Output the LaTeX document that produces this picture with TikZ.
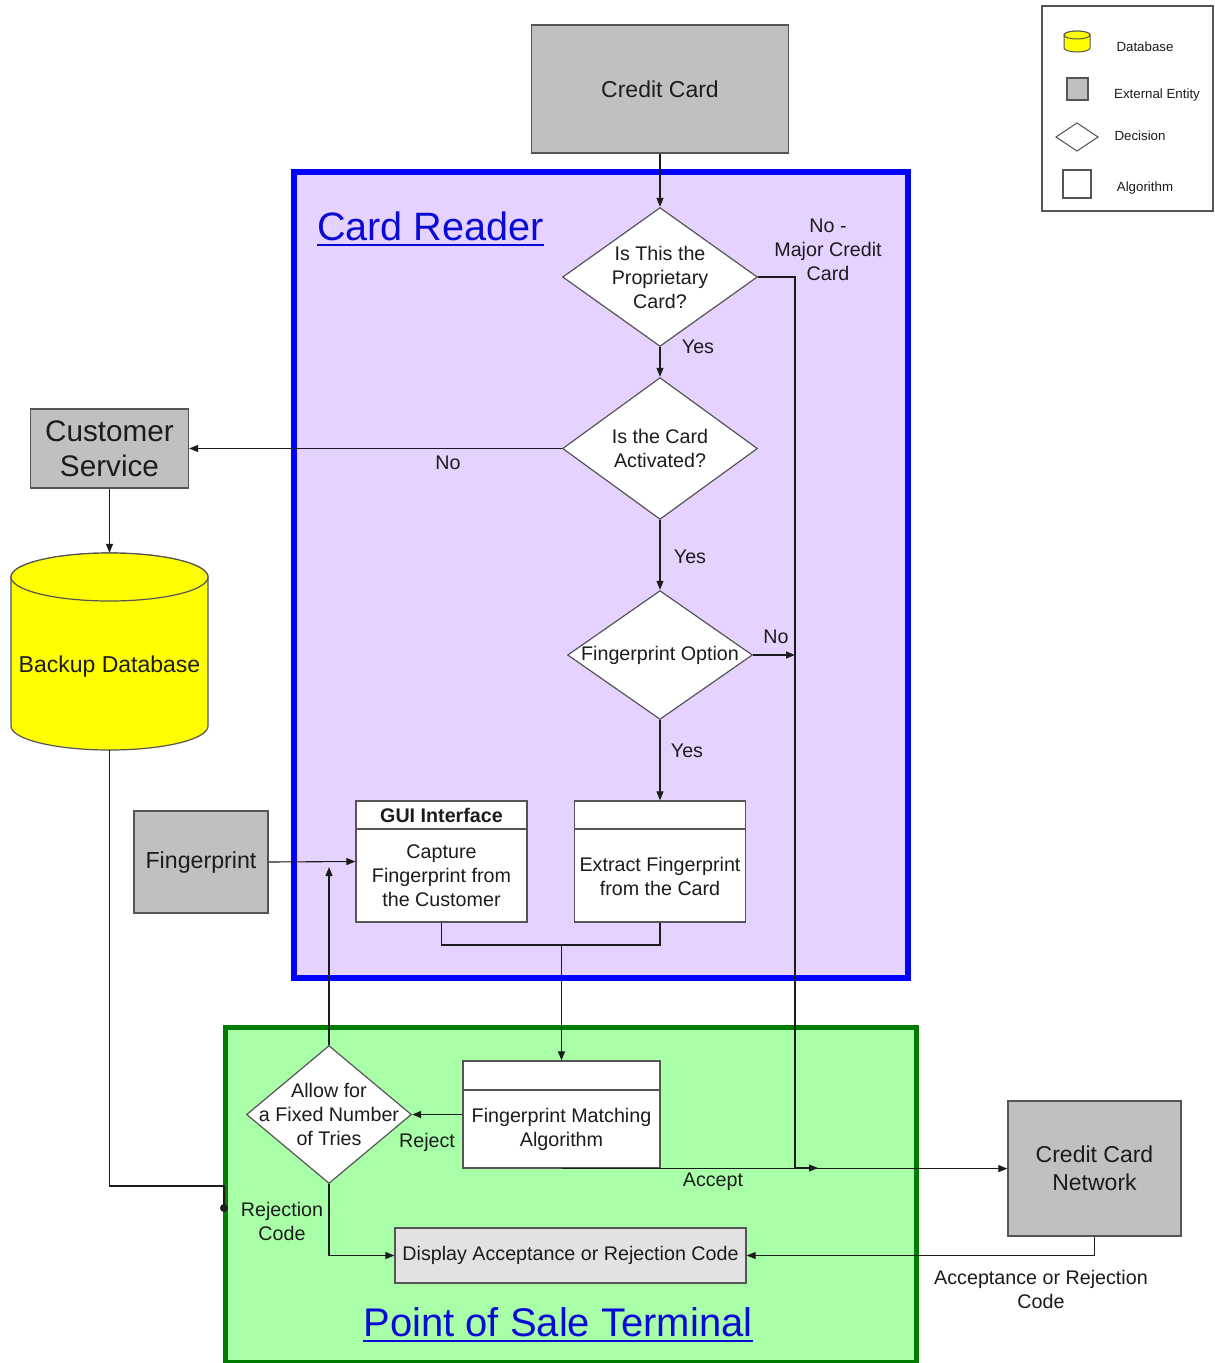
\documentclass[tikz,border=0pt]{standalone}
\usepackage{fontspec}
\setmainfont{Liberation Sans}
\usetikzlibrary{arrows.meta,calc}
\definecolor{lav}{RGB}{230,210,255}
\definecolor{posfill}{RGB}{168,255,168}
\definecolor{posb}{RGB}{0,125,0}
\definecolor{rb}{RGB}{0,0,255}
\definecolor{extg}{RGB}{192,192,192}
\definecolor{extb}{RGB}{85,85,85}
\definecolor{dispg}{RGB}{226,226,226}
\definecolor{ink}{RGB}{28,28,28}
\definecolor{ttl}{RGB}{10,10,215}
\definecolor{dbyel}{RGB}{255,255,0}
\newcommand\fsz[2]{\fontsize{#1}{#2}\selectfont}
\begin{document}
\begin{tikzpicture}[x=1pt,y=-1pt,
  every node/.style={text=ink, align=center},
  lbl/.style={font=\fsz{19.7}{24}, inner sep=0pt},
  ext/.style={draw=extb, fill=extg, line width=1.3pt, inner sep=0pt},
  box/.style={draw=extb, fill=white, line width=1.2pt, inner sep=0pt},
  frame/.style={inner sep=0pt},
  dec/.style n args={2}{minimum width=#1, minimum height=#2, inner sep=0pt, lbl,
    path picture={\draw[draw=extb, fill=white, line width=1.2pt]
      ([yshift=-0.8pt]path picture bounding box.north) --
      ([xshift=-0.8pt]path picture bounding box.east) --
      ([yshift=0.8pt]path picture bounding box.south) --
      ([xshift=0.8pt]path picture bounding box.west) -- cycle;}},
  conn/.style={draw=ink, line width=1.1pt},
  arr/.style={conn, -{Triangle[length=9pt,width=7pt]}},
  cyl/.style={draw=extb, fill=dbyel, line width=1.2pt},
  leg/.style={font=\fsz{13.3}{15}, inner sep=0pt},
]
\fill[white] (0,0) rectangle (1215,1363);
\useasboundingbox (0,0) rectangle (1215,1363);

% containers
\draw[rb, fill=lav, line width=6pt] (294,172) rectangle (908,978);
\draw[posb, fill=posfill, line width=5pt] (225,1027) rectangle (916,1362);

% titles
\node[anchor=base west, font=\fsz{39.6}{42}, text=ttl, inner sep=0pt] (crt) at (317,240) {Card Reader};
\draw[ttl, line width=2.6pt] ($(crt.base west)+(0,5)$) -- ($(crt.base east)+(0,5)$);
\node[anchor=base, font=\fsz{40}{42}, text=ttl, inner sep=0pt] (post) at (558,1336) {Point of Sale Terminal};
\draw[ttl, line width=2.6pt] ($(post.base west)+(0,5)$) -- ($(post.base east)+(0,5)$);

% external entities
\node[ext, minimum width=257pt, minimum height=128pt, font=\fsz{23}{28}] (cc) at (660,89) {Credit Card};
\node[ext, minimum width=158pt, minimum height=79pt, font=\fsz{29.7}{35}] (cs) at (109.5,448.5) {Customer\\Service};
\node[ext, minimum width=134pt, minimum height=102pt, font=\fsz{23.2}{28}] (fp) at (201,862) {Fingerprint};
\node[ext, minimum width=173pt, minimum height=135pt, font=\fsz{23}{28}] (ccn) at (1094.5,1168.5) {Credit Card\\Network};

% database
\draw[cyl] (11,577) -- (11,726) arc[start angle=180, end angle=360, x radius=98.5pt, y radius=24pt]
  -- (208,577) arc[start angle=0, end angle=180, x radius=98.5pt, y radius=24pt] -- cycle;
\draw[cyl] (109.5,577) ellipse[x radius=98.5pt, y radius=24pt];
\node[frame, minimum width=197pt, minimum height=197pt, font=\fsz{23}{28}, text height=42pt, text depth=0pt] (db) at (109.5,651.5) {Backup Database};

% decisions
\node[dec={196pt}{140pt}] (d1) at (660,277) {Is This the\\Proprietary\\Card?};
\node[dec={196pt}{143pt}] (d2) at (660,448.5) {Is the Card\\Activated?};
\node[dec={186pt}{130pt}] (d3) at (660,655) {Fingerprint Option};
\node[dec={166pt}{139pt}] (allow) at (329,1114.5) {Allow for\\a Fixed Number\\of Tries};

% algorithm boxes
\node[box, minimum width=171pt, minimum height=121pt] (gui) at (441.5,861.5) {};
\draw[draw=extb, line width=1.2pt] (gui.west |- 0,829) -- (gui.east |- 0,829);
\node[font=\bfseries\fsz{19.7}{22}, inner sep=0pt] (guih) at (441.5,815) {GUI Interface};
\node[lbl] (guib) at (441.5,876) {Capture\\Fingerprint from\\the Customer};

\node[box, minimum width=171pt, minimum height=121pt] (ex) at (660,861.5) {};
\draw[draw=extb, line width=1.2pt] (ex.west |- 0,829) -- (ex.east |- 0,829);
\node[lbl] (exb) at (660,876) {Extract Fingerprint\\from the Card};

\node[box, minimum width=197pt, minimum height=107pt] (match) at (561.5,1114.5) {};
\draw[draw=extb, line width=1.2pt] (match.west |- 0,1090) -- (match.east |- 0,1090);
\node[lbl] (matchb) at (561.5,1129) {Fingerprint Matching\\Algorithm};

\node[box, fill=dispg, minimum width=351pt, minimum height=55pt, font=\fsz{19.7}{23}] (disp) at (570.5,1255.5) {Display Acceptance or Rejection Code};

% coordinates
\coordinate (j1) at (795,277);
\coordinate (j2) at (795,1168);
\coordinate (j3) at (818,1168);
\coordinate (fpj) at (329,867);
\coordinate (dbj) at (224,1208);

% connectors
\draw[arr] (cc.south) -- (d1.north);
\draw[arr] (d1.south) -- (d2.north);
\draw[arr] (d2.south) -- (d3.north);
\draw[arr] (d3.south) -- (ex.north);
\draw[arr] (d2.west) -- (cs.east);
\draw[arr] (cs.south) -- (db.north);
\draw[arr] (d1.east) -- (j1) -- (j2) -- (j3);
\draw[arr] (d3.east) -- (d3.east -| j1);
\draw[arr] (fp.east) -- (gui.west);
\draw[arr] (allow.north) -- (fpj);
\draw[conn] (gui.south) -- (gui.south |- 0,945) -- (ex.south |- 0,945) -- (ex.south);
\draw[arr] (match.north |- 0,945) -- (match.north);
\draw[arr] (match.west) -- (allow.east);
\draw[arr] (allow.south) -- (allow.south |- disp.west) -- (disp.west);
\draw[arr] (match.south) -- (match.south -| ccn.west);
\draw[arr] (ccn.south) -- (ccn.south |- disp.east) -- (disp.east);
\draw[conn] (db.south) -- (db.south |- 0,1186) -- (dbj |- 0,1186) -- (dbj);
\fill[ink] (dbj) circle[radius=4pt];

% labels
\node[lbl] (lno1) at (828,250) {No -\\Major Credit\\Card};
\node[lbl] (lyes1) at (698,347) {Yes};
\node[lbl] (lno2) at (448,463) {No};
\node[lbl] (lyes2) at (690,557) {Yes};
\node[lbl] (lno3) at (776,637) {No};
\node[lbl] (lyes3) at (687,751) {Yes};
\node[lbl] (lrej) at (427,1142) {Reject};
\node[lbl] (lrc) at (282,1221) {Rejection\\Code};
\node[lbl] (lacc) at (713,1182) {Accept};
\node[lbl] (larc) at (1041,1289) {Acceptance or Rejection\\Code};

% legend
\draw[draw=extb, fill=white, line width=1.2pt] (1042,6) rectangle (1213,211);
\draw[cyl, line width=1pt] (1064,35) -- (1064,48) arc[start angle=180, end angle=360, x radius=13pt, y radius=4pt]
  -- (1090,35) arc[start angle=0, end angle=180, x radius=13pt, y radius=4pt] -- cycle;
\draw[cyl, line width=1pt] (1077,35) ellipse[x radius=13pt, y radius=4pt];
\draw[draw=extb, fill=extg, line width=1.2pt] (1067,78) rectangle (1088,100);
\draw[draw=extb, fill=white, line width=1pt] (1077,123) -- (1098,137) -- (1077,151) -- (1056,137) -- cycle;
\draw[draw=extb, fill=white, line width=1.2pt] (1063,170) rectangle (1091,198);
\node[leg] (lg1) at (1145,47) {Database};
\node[leg] (lg2) at (1157,95) {External Entity};
\node[leg] (lg3) at (1140,136) {Decision};
\node[leg] (lg4) at (1145,188) {Algorithm};
\end{tikzpicture}
\end{document}
